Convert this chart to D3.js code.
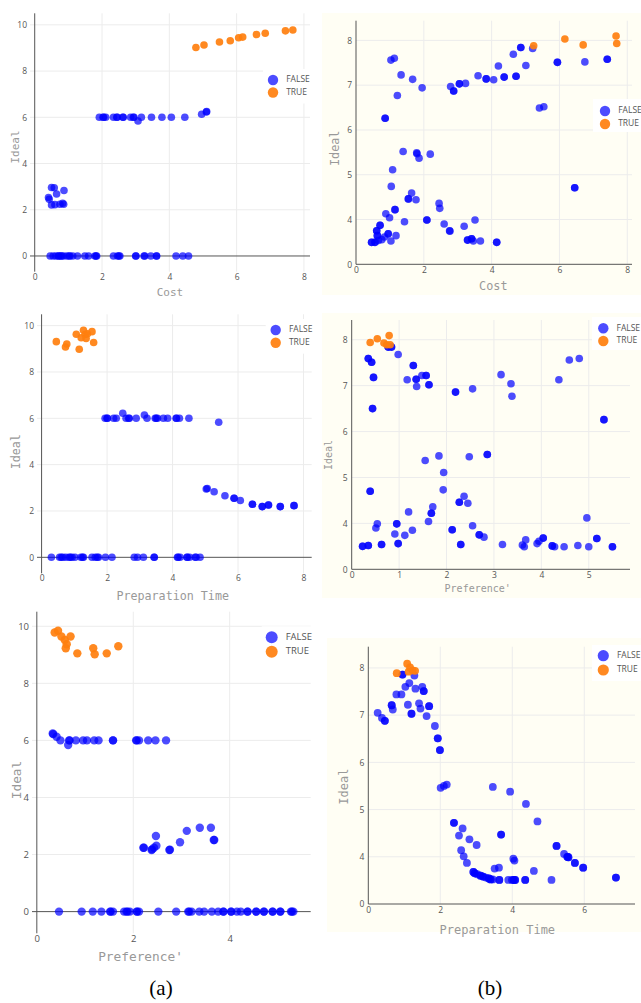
<!DOCTYPE html>
<html>
<head>
<meta charset="utf-8">
<script src="https://cdn.jsdelivr.net/npm/d3@7"></script>
<style>
  body { margin: 0; background: #fff; }
  svg { display: block; }
</style>
</head>
<body>
<svg id="fig" width="641" height="1003"></svg>
<script>
// ---- data: [x, Ideal] pairs (repeated pairs = overlapping dots) ----
const costTrueA = [[4.79,9.02],[5.03,9.13],[5.49,9.26],[5.81,9.31],[6.06,9.44],[6.18,9.47],[6.59,9.58],[6.85,9.64],[7.45,9.74],[7.67,9.78]]
const costFalseA = [
  [1.92,6],[2.03,6],[2.05,6],[2.11,6],[2.34,6],[2.44,6],[2.45,6],[2.63,6],[2.62,6],[2.85,6],[2.93,6],[2.95,6],[3.17,6],[3.47,6],[3.78,6],[4.06,6],[4.46,6],[3.07,5.84],[4.96,6.13],[5.11,6.25],[5.10,6.23],
  [0.41,2.53],[0.43,2.45],[0.50,2.96],[0.58,2.95],[0.65,2.68],[0.87,2.83],[0.50,2.21],[0.60,2.22],[0.75,2.24],[0.83,2.28],[0.86,2.24],
  [0.46,0],[0.55,0],[0.63,0],[0.70,0],[0.72,0],[0.77,0],[0.80,0],[0.85,0],[0.95,0],[1.02,0],[1.05,0],[1.13,0],[1.27,0],[1.49,0],[1.60,0],[1.79,0],[1.82,0],[1.84,0],
  [2.34,0],[2.46,0],[2.50,0],[2.53,0],[3.00,0],[3.01,0],[3.25,0],[3.27,0],[3.45,0],[3.62,0],[3.62,0],[4.20,0],[4.40,0],[4.57,0]
]

const prepTrueA = [[0.45,9.31],[0.73,9.08],[0.77,9.21],[1.06,9.63],[1.15,8.98],[1.21,9.48],[1.28,9.80],[1.33,9.62],[1.36,9.45],[1.40,9.65],[1.54,9.74],[1.59,9.27]]
const prepFalseA = [
  [1.94,6],[2.00,6],[2.01,6],[2.20,6],[2.28,6],[2.48,6.22],[2.58,6],[2.66,6],[2.68,6],[2.89,6],[3.14,6.14],[3.22,6],[3.47,6],[3.50,6],[3.54,6],[3.72,6],[3.85,6],[4.11,6],[4.12,6],[4.21,6],[4.50,6],[5.41,5.83],
  [5.03,2.95],[5.06,2.97],[5.27,2.83],[5.60,2.66],[5.88,2.55],[5.88,2.55],[6.07,2.45],[6.44,2.29],[6.44,2.29],[6.74,2.19],[6.74,2.19],[6.93,2.26],[6.93,2.26],[7.29,2.19],[7.29,2.19],[7.71,2.23],[7.71,2.23],
  [0.30,0],[0.55,0],[0.60,0],[0.65,0],[0.74,0],[0.84,0],[0.88,0],[0.93,0],[1.02,0],[1.20,0],[1.25,0],[1.28,0],[1.54,0],[1.64,0],[1.70,0],[1.74,0],[1.95,0],[2.15,0],
  [2.83,0],[2.93,0],[3.11,0],[3.44,0],[3.44,0],[4.15,0],[4.17,0],[4.23,0],[4.44,0],[4.45,0],[4.52,0],[4.69,0],[4.72,0],[4.84,0]
]

const prefTrueA = [[0.37,9.78],[0.44,9.84],[0.51,9.64],[0.58,9.52],[0.62,9.37],[0.60,9.23],[0.70,9.64],[0.84,9.05],[1.17,9.23],[1.20,9.02],[1.45,9.05],[1.69,9.30]]
const prefFalseA = [
  [0.33,6.24],[0.34,6.22],[0.41,6.13],[0.49,6.0],[0.65,5.84],[0.67,6.0],[0.68,6.0],[0.81,6.0],[0.96,6.0],[1.04,6.0],[1.19,6.0],[1.28,6.0],[1.58,6.0],[1.58,6.0],[2.06,6.0],[2.07,6.0],[2.12,6.0],[2.31,6.0],[2.46,6.0],[2.68,6.0],
  [2.21,2.24],[2.22,2.24],[2.38,2.16],[2.39,2.18],[2.43,2.24],[2.48,2.31],[2.47,2.65],[2.75,2.16],[2.76,2.17],[2.97,2.43],[3.11,2.83],[3.38,2.94],[3.61,2.94],[3.67,2.51],[3.68,2.51],
  [0.46,0],[0.93,0],[1.16,0],[1.34,0],[1.52,0],[1.53,0],[1.58,0],[1.81,0],[1.86,0],[1.88,0],[1.93,0],[2.07,0],[2.08,0],[2.12,0],[2.52,0],[2.89,0],[3.14,0],[3.16,0],[3.21,0],
  [3.37,0],[3.47,0],[3.63,0],[3.76,0],[3.87,0],[3.87,0],[4.03,0],[4.03,0],[4.15,0],[4.23,0],[4.37,0],[4.37,0],[4.55,0],[4.55,0],[4.71,0],[4.71,0],[4.89,0],[4.89,0],
  [5.05,0],[5.05,0],[5.27,0],[5.29,0],[5.32,0]
]

const costTrueB = [[5.24,7.88],[6.16,8.03],[6.70,7.90],[7.67,8.10],[7.69,7.93]]
const costFalseB = [
  [1.03,7.56],[1.13,7.60],[1.33,7.23],[1.67,7.13],[1.95,6.94],[1.22,6.77],[0.86,6.26],[0.86,6.26],[2.79,6.97],[2.88,6.87],[2.88,6.87],[3.05,7.03],[3.05,7.03],[3.23,7.04],
  [3.60,7.21],[3.84,7.14],[3.84,7.14],[4.06,7.12],[4.20,7.43],[4.37,7.18],[4.37,7.18],[4.64,7.69],[4.72,7.20],[4.72,7.20],[4.86,7.84],[4.86,7.84],[5.01,7.44],[5.21,7.82],
  [5.94,7.51],[5.94,7.51],[5.41,6.49],[5.54,6.52],[6.75,7.52],[7.41,7.58],[7.41,7.58],[6.45,4.71],[6.45,4.71],
  [1.39,5.52],[1.79,5.49],[1.80,5.47],[1.86,5.37],[2.19,5.46],[1.08,5.11],[1.04,4.74],[1.64,4.59],[1.54,4.46],[1.55,4.46],[1.77,4.44],[2.45,4.36],[2.47,4.25],
  [1.15,4.22],[1.15,4.22],[0.88,4.13],[0.99,4.04],[1.43,3.95],[2.09,3.99],[2.09,3.99],[3.51,3.99],[2.60,3.90],[3.19,3.85],[2.76,3.75],[2.77,3.74],
  [0.71,3.87],[0.71,3.87],[0.61,3.75],[0.61,3.75],[0.63,3.64],[0.63,3.64],[0.95,3.68],[0.95,3.68],[0.84,3.61],[1.18,3.64],[1.03,3.52],
  [0.46,3.49],[0.46,3.49],[0.56,3.49],[0.56,3.49],[0.66,3.53],[0.76,3.55],[3.29,3.54],[3.29,3.54],[3.41,3.57],[3.41,3.57],[3.46,3.52],[3.67,3.52],[4.15,3.49],[4.15,3.49]
]

const prefTrueB = [[0.39,7.94],[0.54,8.02],[0.68,7.93],[0.74,7.89],[0.79,8.09],[0.81,7.89]]
const prefFalseB = [
  [0.77,7.84],[0.77,7.84],[0.84,7.84],[0.84,7.84],[0.35,7.59],[0.35,7.59],[0.42,7.51],[0.42,7.51],[0.46,7.18],[0.46,7.18],[0.44,6.50],[0.44,6.50],[0.98,7.68],
  [1.30,7.44],[1.30,7.44],[1.17,7.13],[1.36,7.14],[1.36,7.14],[1.37,6.98],[1.48,7.22],[1.57,7.22],[1.57,7.22],[1.63,7.02],[1.63,7.02],[2.19,6.86],[2.19,6.86],
  [2.55,6.93],[3.15,7.24],[3.36,7.04],[3.38,6.77],[4.37,7.13],[4.59,7.56],[4.80,7.59],[5.32,6.26],[5.32,6.26],
  [0.39,4.70],[0.39,4.70],[1.55,5.37],[1.84,5.47],[2.48,5.45],[2.86,5.50],[2.86,5.50],[1.94,5.11],[1.93,4.73],[2.37,4.59],[2.27,4.46],[2.27,4.46],[2.45,4.44],
  [1.71,4.36],[1.68,4.22],[1.68,4.22],[1.20,4.25],[1.62,4.04],[0.54,3.99],[0.51,3.90],[0.95,3.99],[0.95,3.99],[2.55,3.95],[2.12,3.86],[2.12,3.86],
  [0.91,3.77],[1.12,3.74],[1.28,3.85],[2.69,3.75],[2.69,3.75],[2.79,3.70],[0.23,3.50],[0.23,3.50],[0.35,3.52],[0.35,3.52],[0.63,3.54],[0.63,3.54],
  [0.98,3.56],[0.98,3.56],[2.30,3.54],[2.30,3.54],[3.18,3.54],[3.60,3.53],[3.64,3.49],[3.67,3.64],[3.91,3.56],[3.95,3.61],[4.04,3.68],[4.04,3.68],
  [4.23,3.51],[4.23,3.51],[4.28,3.49],[4.48,3.49],[4.77,3.52],[5.00,3.49],[4.96,4.12],[5.17,3.67],[5.17,3.67],[5.50,3.49],[5.50,3.49]
]

const prepTrueB = [[0.79,7.89],[1.08,8.09],[1.16,8.01],[1.23,7.95],[1.30,7.94],[1.12,7.92]]
const prepFalseB = [
  [0.95,7.86],[0.95,7.86],[1.28,7.84],[1.03,7.60],[1.14,7.68],[1.31,7.56],[1.50,7.60],[1.54,7.51],[1.54,7.51],[0.78,7.44],[0.92,7.44],[1.41,7.25],[1.45,7.14],
  [1.69,7.19],[1.69,7.19],[1.62,6.98],[1.10,7.22],[1.20,7.03],[1.20,7.03],[0.65,7.21],[0.65,7.21],[0.68,7.12],[0.26,7.05],[0.38,6.94],[0.46,6.88],[0.46,6.88],
  [1.85,6.77],[1.93,6.51],[1.93,6.51],[1.99,6.26],[1.99,6.26],[2.01,5.46],[2.10,5.50],[2.18,5.53],[3.46,5.48],[3.94,5.38],[4.38,5.12],[4.70,4.75],
  [2.38,4.72],[2.38,4.72],[2.62,4.60],[2.52,4.45],[2.81,4.37],[3.01,4.25],[3.69,4.47],[3.69,4.47],[2.58,4.14],[2.65,4.01],[2.74,3.87],
  [2.92,3.68],[2.92,3.68],[2.96,3.65],[2.96,3.65],[3.03,3.63],[3.12,3.60],[3.12,3.60],[3.19,3.58],[3.19,3.58],[3.27,3.56],[3.35,3.54],[3.35,3.54],
  [3.40,3.52],[3.40,3.52],[3.46,3.52],[3.51,3.75],[3.63,3.77],[3.64,3.51],[3.64,3.51],[3.89,3.51],[3.99,3.51],[4.04,3.51],[4.04,3.51],[4.08,3.51],[4.08,3.51],
  [4.03,3.96],[4.06,3.92],[4.36,3.51],[4.36,3.51],[4.60,3.70],[5.09,3.51],[5.23,4.23],[5.23,4.23],[5.44,4.06],[5.53,4.00],[5.53,4.00],[5.56,3.99],[5.56,3.99],
  [5.74,3.87],[5.74,3.87],[5.97,3.77],[5.97,3.77],[6.88,3.56],[6.88,3.56]
]

const legendNames = ["FALSE", "TRUE"]
const leftYTicks = [0, 2, 4, 6, 8, 10]
const rightYTicks = [3, 4, 5, 6, 7, 8]
const rightYTickLabels = ["0", "4", "5", "6", "7", "8"]
const captions = ["(a)", "(b)"]

// ---- layout: pixel frame of each plot area + domain it shows ----
const panels = [
  { f: costFalseA, t: costTrueA, xLabel: "Cost", side: "a",
    l: 30, r: 310, top: 13.3, b: 271.7, xd: [-0.14, 8.18], yd: [-0.68, 10.5], xt: [0,2,4,6,8],
    r0: 3.8, tfs: 8.5, afs: 11, yl: [16, 147], xl: [170, 293], leg: [273, 80, 12.5, 5.2, 8.5] },
  { f: prepFalseA, t: prepTrueA, xLabel: "Preparation Time", side: "a",
    l: 37, r: 311.7, top: 314.3, b: 573.3, xd: [-0.14, 8.25], yd: [-0.69, 10.49], xt: [0,2,4,6,8],
    r0: 3.8, tfs: 8.5, afs: 11.7, yl: [16, 451.7], xl: [172.7, 596], leg: [275.7, 330, 12.7, 5.2, 8.5] },
  { f: prefFalseA, t: prefTrueA, xLabel: "Preference'", side: "a",
    l: 32, r: 310.7, top: 611.7, b: 933.3, xd: [-0.1, 5.68], yd: [-0.76, 10.51], xt: [0,2,4],
    r0: 4.2, tfs: 9.5, afs: 12.8, yl: [17.3, 780], xl: [140.5, 957], leg: [271.7, 637.3, 14.4, 6, 9.5] },
  { f: costFalseB, t: costTrueB, xLabel: "Cost", side: "b",
    l: 356, r: 632, top: 20.7, b: 264.3, xd: [0, 8.14], yd: [3, 8.44], xt: [0,2,4,6,8],
    r0: 3.8, tfs: 8.5, afs: 11.8, yl: [335, 148.3], xl: [493.3, 286.7], leg: [605, 111, 13, 5.2, 8.5],
    bg: [322, 13, 319, 282], lb: [593, 99, 48, 33] },
  { f: prefFalseB, t: prefTrueB, xLabel: "Preference'", side: "b",
    l: 351.7, r: 630, top: 320, b: 569.3, xd: [0, 5.87], yd: [3, 8.43], xt: [0,1,2,3,4,5],
    r0: 3.8, tfs: 8.5, afs: 10, yl: [329.3, 455], xl: [477.7, 589.3], leg: [603.3, 328.3, 12.7, 5.2, 8.5],
    bg: [322, 313, 319, 285], lb: [592, 317, 49, 33] },
  { f: prepFalseB, t: prepTrueB, xLabel: "Preparation Time", side: "b",
    l: 368.3, r: 635, top: 646.7, b: 904, xd: [0, 7.41], yd: [3, 8.45], xt: [0,2,4,6],
    r0: 3.9, tfs: 8.5, afs: 12, yl: [344, 786.7], xl: [497.3, 930], leg: [603.3, 655.7, 14.3, 5.6, 8.5],
    bg: [327, 638, 314, 294], lb: [592, 645, 49, 36] }
]

const blue = "#0000ff", orange = "#ff7f0e"
const tickFont = "'Open Sans', 'DejaVu Sans', sans-serif"
const titleFont = "'DejaVu Sans Mono', monospace"

const svg = d3.select("#fig")
svg.append("rect").attr("width", 641).attr("height", 1003).attr("fill", "#fff")

panels.forEach(p => {
  const g = svg.append("g")
  const x = d3.scaleLinear().domain(p.xd).range([p.l, p.r])
  const y = d3.scaleLinear().domain(p.yd).range([p.b, p.top])
  const yt = p.side === "a" ? leftYTicks : rightYTicks

  if (p.bg) {
    g.append("rect").attr("x", p.bg[0]).attr("y", p.bg[1]).attr("width", p.bg[2]).attr("height", p.bg[3])
      .attr("fill", "#fffef4")
  }

  // grid
  g.append("g").selectAll("line").data(p.xt.filter(d => d !== 0)).join("line")
    .attr("x1", d => x(d)).attr("x2", d => x(d)).attr("y1", p.top).attr("y2", p.b)
    .attr("stroke", "#ececec").attr("stroke-width", 1)
  g.append("g").selectAll("line").data(yt.filter(d => d !== p.yd[0] && d !== 0)).join("line")
    .attr("x1", p.l).attr("x2", p.r).attr("y1", d => y(d)).attr("y2", d => y(d))
    .attr("stroke", "#ececec").attr("stroke-width", 1)

  // axis lines (zero lines on the left, frame lines on the right)
  if (p.side === "a") {
    g.append("line").attr("x1", p.l).attr("x2", p.r).attr("y1", y(0)).attr("y2", y(0))
      .attr("stroke", "#555").attr("stroke-width", 1)
    g.append("line").attr("x1", x(0)).attr("x2", x(0)).attr("y1", p.top).attr("y2", p.b)
      .attr("stroke", "#555").attr("stroke-width", 1)
  } else {
    g.append("line").attr("x1", p.l).attr("x2", p.r).attr("y1", p.b).attr("y2", p.b)
      .attr("stroke", "#555").attr("stroke-width", 1)
    g.append("line").attr("x1", p.l).attr("x2", p.l).attr("y1", p.top).attr("y2", p.b)
      .attr("stroke", "#555").attr("stroke-width", 1)
  }

  // tick labels via d3 axes
  const ax = g.append("g").attr("transform", `translate(0,${p.b})`)
    .call(d3.axisBottom(x).tickValues(p.xt).tickSize(0).tickPadding(p.side === "a" ? 2 : 3).tickFormat(d3.format("d")))
  const ay = g.append("g").attr("transform", `translate(${p.side === "a" ? p.l : p.l - 1},0)`)
    .call(d3.axisLeft(y).tickValues(yt).tickSize(0).tickPadding(3)
      .tickFormat((d, i) => p.side === "a" ? d3.format("d")(d) : rightYTickLabels[i]))
  ;[ax, ay].forEach(a => {
    a.select(".domain").remove()
    a.selectAll("text").attr("font-family", tickFont).attr("font-size", p.tfs).attr("fill", "#555")
  })

  // points
  const dots = g.append("g")
  dots.selectAll("circle.f").data(p.f).join("circle").attr("class", "f")
    .attr("cx", d => x(d[0])).attr("cy", d => y(d[1])).attr("r", p.r0)
    .attr("fill", blue).attr("fill-opacity", 0.7)
  dots.selectAll("circle.t").data(p.t).join("circle").attr("class", "t")
    .attr("cx", d => x(d[0])).attr("cy", d => y(d[1])).attr("r", p.r0)
    .attr("fill", orange).attr("fill-opacity", 0.92)

  // axis titles
  g.append("text").attr("x", p.xl[0]).attr("y", p.xl[1]).attr("text-anchor", "middle")
    .attr("dominant-baseline", "middle").attr("font-family", titleFont).attr("font-size", p.afs)
    .attr("fill", "#999").text(p.xLabel)
  g.append("text").attr("transform", `translate(${p.yl[0]},${p.yl[1]}) rotate(-90)`)
    .attr("text-anchor", "middle").attr("dominant-baseline", "middle")
    .attr("font-family", titleFont).attr("font-size", p.afs).attr("fill", "#999").text("Ideal")

  // legend
  const [lx, ly, ldy, lr, lfs] = p.leg
  const lbox = p.lb || [lx - 10, ly - 11, p.r + 3 - (lx - 10), ldy + 22]
  g.append("rect").attr("x", lbox[0]).attr("y", lbox[1]).attr("width", lbox[2]).attr("height", lbox[3]).attr("fill", "#fff")
  const lg = g.append("g")
  lg.selectAll("circle").data(legendNames).join("circle")
    .attr("cx", lx).attr("cy", (d, i) => ly + i * ldy).attr("r", lr)
    .attr("fill", (d, i) => i ? orange : blue).attr("fill-opacity", (d, i) => i ? 0.92 : 0.7)
  lg.selectAll("text").data(legendNames).join("text")
    .attr("x", lx + lr + 8).attr("y", (d, i) => ly + i * ldy).attr("dominant-baseline", "middle")
    .attr("font-family", tickFont).attr("font-size", lfs).attr("fill", "#555").text(d => d)
})

// captions under the two columns
svg.selectAll("text.cap").data(captions).join("text").attr("class", "cap")
  .attr("x", (d, i) => i ? 490 : 161).attr("y", 995).attr("text-anchor", "middle")
  .attr("font-family", "'Liberation Serif', 'Times New Roman', serif").attr("font-size", 21)
  .attr("fill", "#000").text(d => d)
</script>
</body>
</html>
